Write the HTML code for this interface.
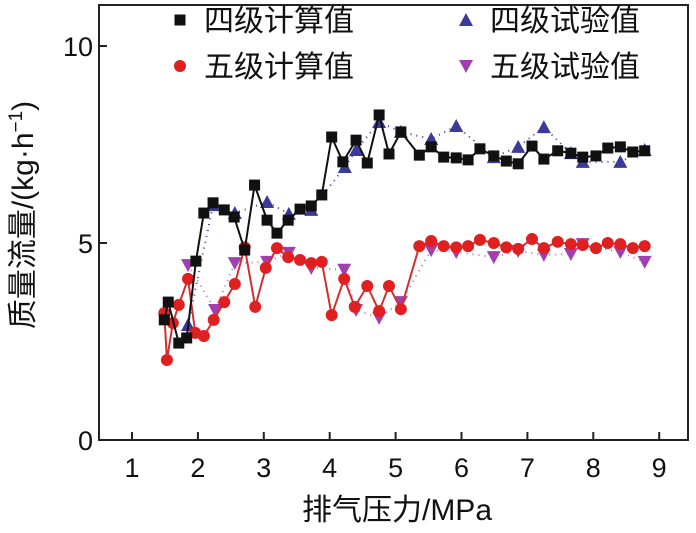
<!DOCTYPE html>
<html><head><meta charset="utf-8"><style>
body{margin:0;background:#fff;width:696px;height:528px;overflow:hidden}
svg text{font-family:"Liberation Sans","Noto Sans CJK SC",sans-serif}
</style></head><body>
<svg id="chart" width="696" height="528" xmlns="http://www.w3.org/2000/svg"></svg>
<script>
const xTicks=[1,2,3,4,5,6,7,8,9];
const yTicks=[0,5,10];
const calc4X=[1.49,1.55,1.71,1.83,1.97,2.09,2.23,2.40,2.55,2.71,2.86,3.05,3.20,3.37,3.55,3.72,3.88,4.03,4.20,4.40,4.57,4.75,4.90,5.08,5.36,5.54,5.73,5.92,6.10,6.28,6.49,6.68,6.86,7.07,7.25,7.46,7.66,7.84,8.04,8.22,8.41,8.60,8.78];
const calc4Y=[3.05,3.50,2.46,2.59,4.54,5.76,6.02,5.84,5.66,4.82,6.47,5.58,5.25,5.58,5.86,5.94,6.22,7.69,7.06,7.61,7.03,8.25,7.26,7.82,7.23,7.44,7.18,7.16,7.11,7.39,7.21,7.08,7.01,7.46,7.13,7.34,7.28,7.18,7.21,7.41,7.44,7.31,7.34];
const calc5X=[1.49,1.53,1.62,1.71,1.85,1.96,2.09,2.24,2.40,2.56,2.71,2.87,3.03,3.20,3.37,3.55,3.72,3.88,4.03,4.22,4.38,4.57,4.75,4.90,5.08,5.36,5.54,5.73,5.92,6.10,6.28,6.49,6.68,6.86,7.07,7.25,7.46,7.66,7.84,8.04,8.22,8.41,8.60,8.78];
const calc5Y=[3.22,2.03,2.97,3.43,4.09,2.72,2.64,3.05,3.50,3.96,4.89,3.38,4.37,4.87,4.64,4.57,4.49,4.52,3.17,4.09,3.38,3.91,3.27,3.91,3.32,4.92,5.05,4.92,4.89,4.92,5.08,5.00,4.89,4.85,5.10,4.87,5.03,4.97,4.95,4.87,5.00,4.97,4.87,4.92];
const test4X=[1.85,2.23,2.56,3.05,3.38,3.72,4.23,4.40,4.75,5.08,5.54,5.92,6.49,6.86,7.25,7.66,7.84,8.41,8.78];
const test4Y=[2.92,5.96,5.76,6.04,5.74,5.84,6.93,7.36,8.07,7.82,7.64,7.97,7.18,7.44,7.94,7.28,7.06,7.06,7.36];
const test5X=[1.85,2.26,2.56,3.05,3.38,3.72,4.22,4.40,4.75,5.08,5.54,5.92,6.49,6.86,7.25,7.66,7.84,8.41,8.78];
const test5Y=[4.44,3.30,4.49,4.52,4.75,4.37,4.32,3.30,3.10,3.50,4.82,4.77,4.64,4.80,4.70,4.72,4.97,4.77,4.52];

const NS="http://www.w3.org/2000/svg";
const svg=document.getElementById('chart');
const L=99,R=688,T=5,B=440;
const sx=v=>132+(v-1)*65.9;
const sy=v=>B-v*39.4;
function mk(tag,attrs,parent){const e=document.createElementNS(NS,tag);for(const k in attrs)e.setAttribute(k,attrs[k]);(parent||svg).appendChild(e);return e;}

const frame=mk('rect',{x:L,y:T,width:R-L,height:B-T,fill:'none',stroke:'#222','stroke-width':2});


xTicks.forEach(t=>{
  const ln=mk('line',{x1:sx(t),x2:sx(t),y1:B,y2:B-8,stroke:'#222','stroke-width':2});
  
  
  const tx=mk('text',{x:sx(t),y:477,'font-size':27,'text-anchor':'middle',fill:'#111'});tx.textContent=t;
  
  
});
yTicks.forEach(t=>{
  const ln=mk('line',{x1:L,x2:L+8,y1:sy(t),y2:sy(t),stroke:'#222','stroke-width':2});
  
  
  const tx=mk('text',{x:93,y:sy(t)+10,'font-size':27,'text-anchor':'end',fill:'#111'});tx.textContent=t;
  
  
});
const xt=mk('text',{x:397,y:520,'font-size':30,'text-anchor':'middle',fill:'#111'});xt.textContent='排气压力/MPa';


const yt=mk('text',{x:0,y:0,'font-size':30,'text-anchor':'middle',fill:'#111',transform:'translate(33,215) rotate(-90)'});
yt.innerHTML='质量流量/(kg·h<tspan dy="-11" font-size="19">−1</tspan><tspan dy="11">)</tspan>';



function marker(type,x,y,color,g){
  let e;
  if(type==='sq')e=mk('rect',{x:x-5.5,y:y-5.5,width:11,height:11,fill:color},g);
  else if(type==='ci')e=mk('circle',{cx:x,cy:y,r:6,fill:color},g);
  else if(type==='up')e=mk('polygon',{points:`${x},${y-7} ${x-7},${y+6} ${x+7},${y+6}`,fill:color},g);
  else e=mk('polygon',{points:`${x},${y+7} ${x-7},${y-6} ${x+7},${y-6}`,fill:color},g);
  return e;
}
function series(name,xs,ys,type,color,lineColor,dash){
  const g=mk('g',{});
  
  
  const pts=xs.map((v,i)=>sx(v)+','+sy(ys[i])).join(' ');
  const pl=mk('polyline',{points:pts,fill:'none',stroke:lineColor,'stroke-width':2,'stroke-dasharray':dash||'none'},g);
  
  
  xs.forEach((v,i)=>{const m=marker(type,sx(v),sy(ys[i]),color,g);
    
    });
}
series('test5-series',test5X,test5Y,'dn','#a040b0','#b070c0','1 5');
series('test4-series',test4X,test4Y,'up','#3a3a9a','#3a3a9a','1 5');
series('calc5-series',calc5X,calc5Y,'ci','#e02020','#d03030',null);
series('calc4-series',calc4X,calc4Y,'sq','#111','#111',null);

const leg=[['legend-calc4','sq','#111',180,20,'四级计算值'],['legend-test4','up','#3a3a9a',466,20,'四级试验值'],['legend-calc5','ci','#e02020',180,66,'五级计算值'],['legend-test5','dn','#a040b0',466,66,'五级试验值']];
leg.forEach(l=>{
  const g=mk('g',{});
  
  
  marker(l[1],l[3],l[4],l[2],g);
  const t=mk('text',{x:l[3]+24,y:l[4]+11,'font-size':30,fill:'#111'},g);t.textContent=l[5];
});
</script>
</body></html>
